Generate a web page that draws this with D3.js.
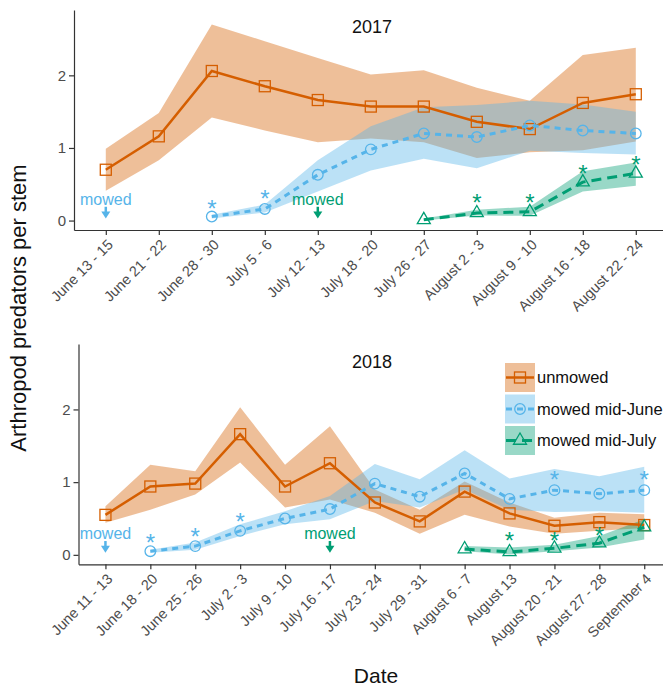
<!DOCTYPE html>
<html>
<head>
<meta charset="utf-8">
<script src="https://cdn.jsdelivr.net/npm/d3@7"></script>
<style>
  body { margin: 0; background: #fff; }
  svg { display: block; font-family: "Liberation Sans", Arial, sans-serif; }
</style>
</head>
<body>
<svg id="drawing_region"></svg>
<script>
// categories
const cats17 = ["June 13 - 15", "June 21 - 22", "June 28 - 30", "July 5 - 6", "July 12 - 13", "July 18 - 20",
    "July 26 - 27", "August 2 - 3", "August 9 - 10", "August 16 - 18", "August 22 - 24"];
const cats18 = ["June 11 - 13", "June 18 - 20", "June 25 - 26", "July 2 - 3", "July 9 - 10", "July 16 - 17",
    "July 23 - 24", "July 29 - 31", "August 6 - 7", "August 13", "August 20 - 21", "August 27 - 28", "September 4"];
const yTicks = [0, 1, 2];

// 2017
const unmowed17   = [0.70, 1.16, 2.06, 1.85, 1.66, 1.57, 1.57, 1.36, 1.26, 1.62, 1.74];
const unmowed17Lo = [0.41, 0.83, 1.42, 1.24, 1.08, 1.13, 1.08, 0.86, 0.94, 0.97, 1.09];
const unmowed17Hi = [0.99, 1.48, 2.70, 2.47, 2.24, 2.01, 2.07, 1.83, 1.65, 2.28, 2.38];
const june17   = [null, null, 0.055, 0.16, 0.63, 0.98, 1.20, 1.15, 1.31, 1.24, 1.20];
const june17Lo = [null, null, 0.03, 0.11, 0.40, 0.69, 0.85, 0.72, 0.96, 0.93, 0.91];
const june17Hi = [null, null, 0.08, 0.22, 0.83, 1.30, 1.56, 1.59, 1.65, 1.60, 1.50];
const july17   = [null, null, null, null, null, null, 0.01, 0.105, 0.12, 0.53, 0.65];
const july17Lo = [null, null, null, null, null, null, 0.00, 0.07, 0.065, 0.40, 0.48];
const july17Hi = [null, null, null, null, null, null, 0.03, 0.15, 0.19, 0.68, 0.80];

// 2018
const unmowed18   = [0.55, 0.94, 0.98, 1.66, 0.94, 1.26, 0.72, 0.46, 0.87, 0.57, 0.40, 0.45, 0.41];
const unmowed18Lo = [0.44, 0.62, 0.83, 1.27, 0.65, 0.76, 0.58, 0.29, 0.55, 0.39, 0.29, 0.33, 0.37];
const unmowed18Hi = [0.67, 1.24, 1.15, 2.03, 1.24, 1.77, 0.90, 0.62, 1.01, 0.72, 0.51, 0.58, 0.56];
const june18   = [null, 0.05, 0.12, 0.33, 0.50, 0.63, 0.98, 0.80, 1.12, 0.77, 0.89, 0.84, 0.89];
const june18Lo = [null, 0.03, 0.07, 0.26, 0.42, 0.49, 0.74, 0.65, 0.90, 0.62, 0.59, 0.60, 0.58];
const june18Hi = [null, 0.07, 0.17, 0.42, 0.60, 0.81, 1.25, 1.04, 1.44, 1.05, 1.18, 1.08, 1.21];
const july18   = [null, null, null, null, null, null, null, null, 0.08, 0.04, 0.09, 0.16, 0.38];
const july18Lo = [null, null, null, null, null, null, null, null, 0.05, 0.005, 0.05, 0.10, 0.21];
const july18Hi = [null, null, null, null, null, null, null, null, 0.12, 0.10, 0.14, 0.26, 0.49];

// significance stars: [category index, height]
const starsJune17 = [[2, 0.26], [3, 0.39]];
const starsJuly17 = [[7, 0.33], [8, 0.34], [9, 0.74], [10, 0.86]];
const starsJune18 = [[1, 0.26], [2, 0.34], [3, 0.55], [10, 1.12], [12, 1.12]];
const starsJuly18 = [[9, 0.28], [10, 0.29], [11, 0.35]];

// mowing dates: [category index, group]
const mowed17 = [[0, "june"], [4, "july"]];
const mowed18 = [[0, "june"], [5, "july"]];

const legendLabels = ["unmowed", "mowed mid-June", "mowed mid-July"];

const colors = { unmowed: "#D55E00", june: "#56B4E9", july: "#009E73" };
const dashes = { unmowed: null, june: "6,5", july: "10,6" };
const widths = { unmowed: 2.5, june: 3, july: 3 };
const shapes = { unmowed: "square", june: "circle", july: "triangle" };

const W = 663, H = 687;
const svg = d3.select("#drawing_region").attr("width", W).attr("height", H);

function marker(sel, shape, cx, cy, color) {
    if (shape === "square") {
        sel.append("rect").attr("x", cx - 5.5).attr("y", cy - 5.5).attr("width", 11).attr("height", 11)
            .attr("fill", "none").attr("stroke", color).attr("stroke-width", 1.3);
    } else if (shape === "circle") {
        sel.append("circle").attr("cx", cx).attr("cy", cy).attr("r", 5.3)
            .attr("fill", "none").attr("stroke", color).attr("stroke-width", 1.3);
    } else {
        const s = 13, h = s * Math.sqrt(3) / 2;
        sel.append("path")
            .attr("d", `M${cx - s / 2},${cy + h / 3}L${cx + s / 2},${cy + h / 3}L${cx},${cy - 2 * h / 3}Z`)
            .attr("fill", "none").attr("stroke", color).attr("stroke-width", 1.3);
    }
}

function drawPanel(cfg) {
    const g = svg.append("g");
    const x = d3.scalePoint()
        .domain(cfg.cats)
        .range([cfg.left, cfg.left + (cfg.cats.length - 1 + 1.2) * cfg.step])
        .padding(0.6);
    const y = d3.scaleLinear().domain([-0.13, 2.9]).range([cfg.bottom, cfg.top]);

    const series = cfg.series.map(s => ({
        key: s.key,
        rows: cfg.cats.map((c, i) => ({ cat: c, v: s.mean[i], lo: s.lo[i], hi: s.hi[i] }))
    }));

    const area = d3.area()
        .defined(d => d.lo != null)
        .x(d => x(d.cat)).y0(d => y(d.lo)).y1(d => y(d.hi));
    const line = d3.line()
        .defined(d => d.v != null)
        .x(d => x(d.cat)).y(d => y(d.v));

    // bands
    series.forEach(s => {
        g.append("path").datum(s.rows).attr("d", area)
            .attr("fill", colors[s.key]).attr("fill-opacity", 0.4);
    });

    // axes
    const xAxis = g.append("g").attr("transform", `translate(0,${cfg.bottom})`)
        .call(d3.axisBottom(x).tickSize(5).tickSizeOuter(0));
    xAxis.select(".domain").attr("stroke", "#333").attr("stroke-width", 1.2);
    xAxis.selectAll(".tick line").attr("stroke", "#333").attr("stroke-width", 1.2);
    xAxis.selectAll("text")
        .attr("x", 0).attr("y", 0).attr("dy", "0.35em")
        .attr("transform", "translate(4,12) rotate(-45)")
        .style("text-anchor", "end")
        .attr("fill", "#4d4d4d")
        .style("font-size", "14.5px");

    const yAxis = g.append("g").attr("transform", `translate(${cfg.left},0)`)
        .call(d3.axisLeft(y).tickValues(yTicks).tickFormat(d3.format("d")).tickSize(5).tickSizeOuter(0));
    yAxis.select(".domain").attr("stroke", "#333").attr("stroke-width", 1.2);
    yAxis.selectAll(".tick line").attr("stroke", "#333").attr("stroke-width", 1.2);
    yAxis.selectAll("text").attr("fill", "#4d4d4d").style("font-size", "15px");

    // lines and markers
    series.forEach(s => {
        g.append("path").datum(s.rows).attr("d", line)
            .attr("fill", "none").attr("stroke", colors[s.key])
            .attr("stroke-width", widths[s.key])
            .attr("stroke-dasharray", dashes[s.key]);
        s.rows.filter(d => d.v != null).forEach(d => {
            marker(g, shapes[s.key], x(d.cat), y(d.v), colors[s.key]);
        });
    });

    // stars
    cfg.stars.forEach(st => {
        g.selectAll(null).data(st.data).enter().append("text")
            .attr("x", d => x(cfg.cats[d[0]]))
            .attr("y", d => y(d[1]))
            .attr("dy", "0.62em")
            .attr("text-anchor", "middle")
            .attr("fill", colors[st.key])
            .style("font-size", "24px")
            .text("*");
    });

    // mowed annotations
    cfg.mowed.forEach(m => {
        const cx = x(cfg.cats[m[0]]);
        const c = colors[m[1]];
        g.append("text").attr("x", cx).attr("y", y(0.22))
            .attr("text-anchor", "middle").attr("fill", c)
            .style("font-size", "16px").text("mowed");
        const y1 = y(0.19), y2 = y(0.03);
        g.append("line").attr("x1", cx).attr("x2", cx).attr("y1", y1).attr("y2", y2 - 5)
            .attr("stroke", c).attr("stroke-width", 2.5);
        g.append("path")
            .attr("d", `M${cx - 4.5},${y2 - 7}L${cx + 4.5},${y2 - 7}L${cx},${y2}Z`)
            .attr("fill", c);
    });

    // title
    g.append("text").attr("x", cfg.titleX).attr("y", cfg.titleY)
        .attr("text-anchor", "middle").attr("fill", "#111")
        .style("font-size", "18px").text(cfg.title);

    return g;
}

drawPanel({
    cats: cats17, left: 74, step: 53, top: 10, bottom: 230,
    title: "2017", titleX: 372, titleY: 33,
    series: [
        { key: "unmowed", mean: unmowed17, lo: unmowed17Lo, hi: unmowed17Hi },
        { key: "june", mean: june17, lo: june17Lo, hi: june17Hi },
        { key: "july", mean: july17, lo: july17Lo, hi: july17Hi }
    ],
    stars: [{ key: "june", data: starsJune17 }, { key: "july", data: starsJuly17 }],
    mowed: mowed17
});

drawPanel({
    cats: cats18, left: 78.5, step: 44.9, top: 344, bottom: 564.3,
    title: "2018", titleX: 372, titleY: 368,
    series: [
        { key: "unmowed", mean: unmowed18, lo: unmowed18Lo, hi: unmowed18Hi },
        { key: "june", mean: june18, lo: june18Lo, hi: june18Hi },
        { key: "july", mean: july18, lo: july18Lo, hi: july18Hi }
    ],
    stars: [{ key: "june", data: starsJune18 }, { key: "july", data: starsJuly18 }],
    mowed: mowed18
});

// legend
const keys = ["unmowed", "june", "july"];
const legend = svg.append("g").attr("transform", "translate(505,363)");
keys.forEach((k, i) => {
    const ly = i * 31.5;
    legend.append("rect").attr("x", 0).attr("y", ly).attr("width", 30).attr("height", 29)
        .attr("fill", colors[k]).attr("fill-opacity", 0.4);
    legend.append("line").attr("x1", 1).attr("x2", 29).attr("y1", ly + 14.5).attr("y2", ly + 14.5)
        .attr("stroke", colors[k]).attr("stroke-width", widths[k])
        .attr("stroke-dasharray", dashes[k]);
    marker(legend, shapes[k], 15, ly + 14.5, colors[k]);
    legend.append("text").attr("x", 32).attr("y", ly + 14.5).attr("dy", "0.36em")
        .attr("fill", "#111").style("font-size", "16.5px").text(legendLabels[i]);
});

// axis titles
svg.append("text")
    .attr("transform", "translate(26,308) rotate(-90)")
    .attr("text-anchor", "middle").attr("fill", "#111")
    .style("font-size", "22px")
    .text("Arthropod predators per stem");

svg.append("text").attr("x", 376).attr("y", 683)
    .attr("text-anchor", "middle").attr("fill", "#111")
    .style("font-size", "21px").text("Date");
</script>
</body>
</html>
